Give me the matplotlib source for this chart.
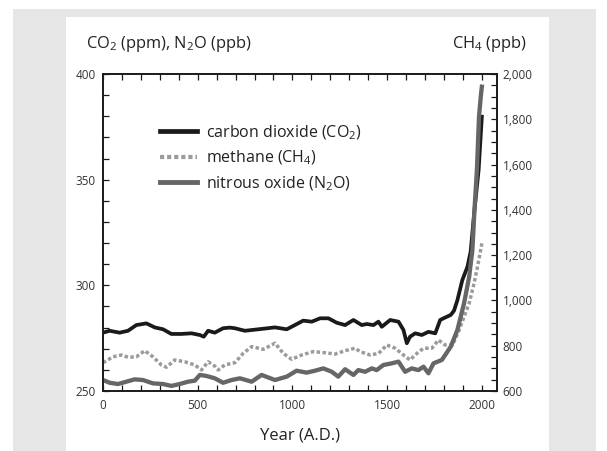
import matplotlib

matplotlib.use("Agg")
import matplotlib.pyplot as plt
from matplotlib.lines import Line2D
from matplotlib.patches import Rectangle
from matplotlib.ticker import FuncFormatter, MultipleLocator

plt.rcParams["font.family"] = ["Open Sans", "DejaVu Sans"]
plt.rcParams["mathtext.fontset"] = "custom"
plt.rcParams["mathtext.rm"] = "Open Sans"
plt.rcParams["mathtext.it"] = "Open Sans"
plt.rcParams["mathtext.bf"] = "Open Sans"

# values
co2_year = [0, 35, 88, 132, 176, 229, 273, 317, 361, 414, 467, 511, 532, 555, 590,
            634, 670, 696, 749, 820, 908, 970, 1013, 1057, 1102, 1146, 1190, 1234,
            1278, 1322, 1366, 1392, 1428, 1454, 1472, 1516, 1560, 1586, 1604, 1621,
            1648, 1683, 1718, 1754, 1780, 1800, 1836, 1853, 1871, 1897, 1924, 1941,
            1961, 1983, 2000]
co2_ppm = [277.6, 278.5, 277.6, 278.5, 281.2, 282.0, 280.1, 279.2, 277.0, 277.0,
           277.3, 276.5, 275.7, 278.5, 277.6, 279.7, 280.0, 279.7, 278.5, 279.2,
           280.1, 279.2, 281.2, 283.3, 282.8, 284.4, 284.4, 282.3, 281.2, 283.6,
           281.2, 281.7, 281.2, 282.8, 280.4, 283.6, 282.8, 278.9, 272.6, 275.7,
           277.3, 276.5, 278.0, 277.3, 283.6, 284.5, 286.0, 288.0, 293.0, 302.5,
           308.8, 316.0, 335.6, 354.6, 379.8]

n2o_year = [0, 35, 79, 123, 167, 211, 264, 317, 361, 405, 449, 485, 511, 547, 590,
            634, 679, 723, 785, 837, 908, 970, 1022, 1075, 1119, 1163, 1208, 1242,
            1278, 1322, 1348, 1384, 1419, 1445, 1480, 1525, 1560, 1595, 1630, 1665,
            1692, 1718, 1745, 1789, 1836, 1871, 1906, 1933, 1950, 1961, 1974, 1985,
            1994, 2000]
n2o_ppb = [255.2, 253.9, 253.3, 254.4, 255.5, 255.2, 253.6, 253.3, 252.4, 253.3,
           254.4, 254.9, 257.6, 257.1, 256.0, 253.9, 255.2, 256.0, 254.4, 257.6,
           255.2, 256.8, 259.6, 258.7, 259.6, 260.7, 259.1, 256.8, 260.3, 257.6,
           259.9, 259.1, 260.7, 259.9, 262.3, 263.1, 263.9, 259.1, 260.7, 259.9,
           261.5, 258.4, 263.1, 264.7, 271.0, 278.9, 291.5, 304.0, 316.7, 335.6,
           354.6, 379.8, 389.0, 394.0]

ch4_year = [0, 53, 97, 132, 176, 220, 264, 308, 335, 379, 432, 485, 520, 555, 590,
            608, 643, 696, 740, 785, 846, 908, 952, 996, 1049, 1110, 1172, 1225,
            1278, 1331, 1357, 1410, 1455, 1498, 1542, 1586, 1621, 1657, 1692, 1736,
            1771, 1806, 1845, 1880, 1906, 1933, 1959, 1977, 1994, 2000]
ch4_ppb = [725, 751, 759, 749, 751, 778, 751, 715, 705, 737, 729, 715, 693, 729,
           710, 693, 715, 725, 766, 796, 784, 811, 766, 740, 759, 774, 769, 763,
           778, 789, 774, 759, 766, 803, 789, 759, 737, 766, 789, 789, 825, 803,
           803, 869, 928, 987, 1076, 1149, 1223, 1252]

labels = [r"carbon dioxide (CO$_2$)", r"methane (CH$_4$)", r"nitrous oxide (N$_2$O)"]

W, H = 607, 451
fig = plt.figure(figsize=(W / 100, H / 100), dpi=100)
fig.patch.set_facecolor("white")


def px_rect(x0, y0, x1, y1, color):
    # rectangle given in top-down pixel coords
    fig.patches.append(Rectangle((x0 / W, 1 - y1 / H), (x1 - x0) / W, (y1 - y0) / H,
                                 transform=fig.transFigure, facecolor=color,
                                 edgecolor="none", zorder=-10))


px_rect(13, 9, 596, 451, "#e6e6e6")
px_rect(66, 17, 549, 451, "white")

ax = fig.add_axes([103 / W, 1 - 391 / H, 394 / W, 317 / H])
ax2 = ax.twinx()
ax.set_zorder(ax2.get_zorder() + 1)
ax.patch.set_visible(False)

ax.set_xlim(0, 2080)
ax.set_ylim(250, 400)
ax2.set_ylim(600, 2000)

c_co2, c_ch4, c_n2o = "#1a1a1a", "#9b9b9b", "#666666"
ax2.plot(ch4_year, ch4_ppb, color=c_ch4, lw=2.5, linestyle=(0, (1.0, 0.7)),
         dash_capstyle="butt")
ax.plot(co2_year, co2_ppm, color=c_co2, lw=2.7, solid_joinstyle="round")
ax.plot(n2o_year, n2o_ppb, color=c_n2o, lw=3.1, solid_joinstyle="round")

for a in (ax, ax2):
    for s in a.spines.values():
        s.set_linewidth(1.2)
        s.set_color("#1a1a1a")

ax.xaxis.set_major_locator(MultipleLocator(500))
ax.xaxis.set_minor_locator(MultipleLocator(100))
ax.yaxis.set_major_locator(MultipleLocator(50))
ax.yaxis.set_minor_locator(MultipleLocator(10))
ax2.yaxis.set_major_locator(MultipleLocator(200))
ax2.yaxis.set_minor_locator(MultipleLocator(50))
ax2.yaxis.set_major_formatter(FuncFormatter(lambda v, p: f"{int(v):,}"))

ax.tick_params(axis="x", which="both", direction="in", top=True, length=4,
               width=0.9, labelsize=8.5, pad=6, color="#1a1a1a")
ax.tick_params(axis="y", which="both", direction="in", length=4, width=0.9,
               labelsize=8.5, pad=5, color="#1a1a1a")
ax2.tick_params(axis="y", which="both", direction="in", length=4, width=0.9,
                labelsize=8.5, pad=4, color="#1a1a1a")
for lab in ax.get_xticklabels() + ax.get_yticklabels() + ax2.get_yticklabels():
    lab.set_color("#333333")

ax.set_xlabel("Year (A.D.)", fontsize=12, labelpad=11, color="#222222")

fig.text(86 / W, 1 - 44 / H, r"CO$_2$ (ppm), N$_2$O (ppb)", fontsize=11.8,
         ha="left", va="center", color="#222222")
fig.text(527 / W, 1 - 44 / H, r"CH$_4$ (ppb)", fontsize=11.8,
         ha="right", va="center", color="#222222")

handles = [
    Line2D([], [], color=c_co2, lw=3.4),
    Line2D([], [], color=c_ch4, lw=3.0, linestyle=(0, (1.0, 0.7))),
    Line2D([], [], color=c_n2o, lw=3.5),
]
ax.legend(handles, labels, loc="upper left", bbox_to_anchor=(0.145, 0.845),
          frameon=False, fontsize=11.5, handlelength=2.3, handletextpad=0.55,
          labelspacing=0.45, borderpad=0, borderaxespad=0, labelcolor="#222222")

fig.savefig("out.png", dpi=100)
